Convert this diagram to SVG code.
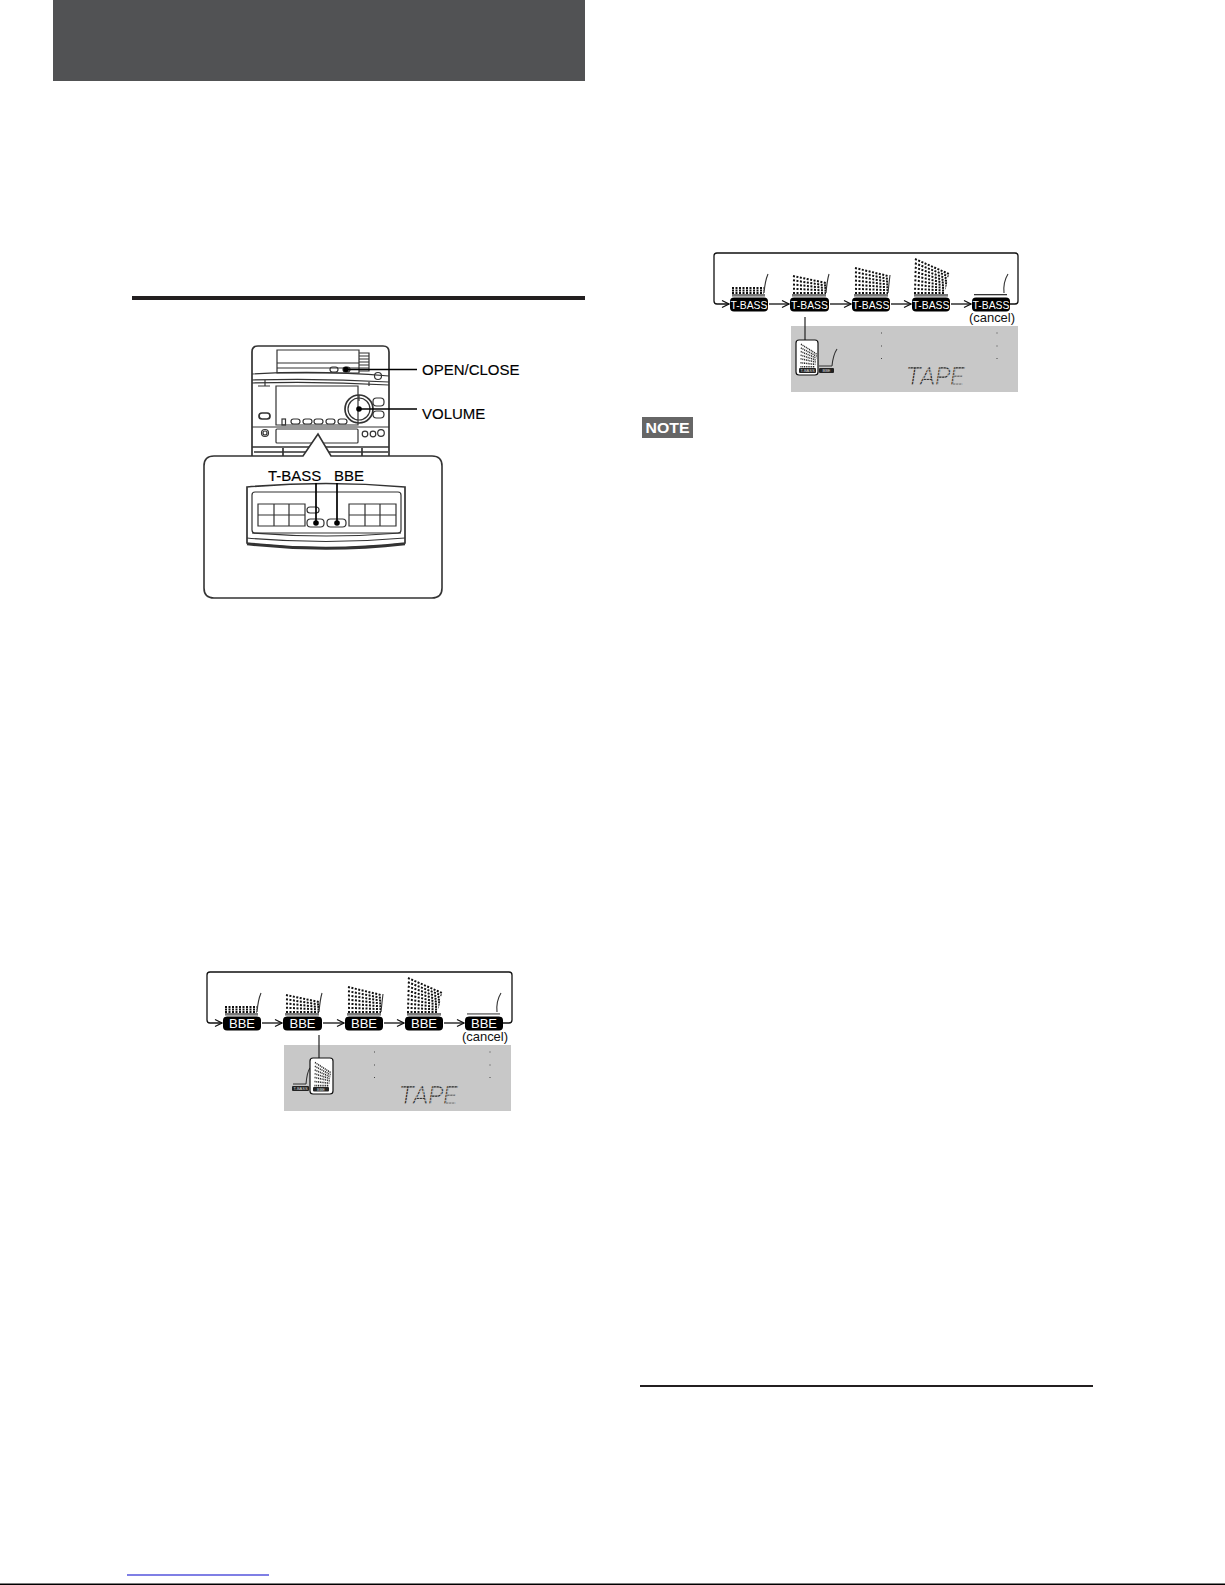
<svg xmlns="http://www.w3.org/2000/svg" width="1225" height="1585" viewBox="0 0 1225 1585">
<style>
text{font-family:"Liberation Sans",Arial,sans-serif}
.lb{font-size:15px;fill:#000;stroke:#000;stroke-width:.15}
.ln{fill:none;stroke:#333;stroke-width:1.2}
.lh{fill:none;stroke:#333;stroke-width:1.7}
.call{fill:none;stroke:#000;stroke-width:1.7}
.thin{fill:none;stroke:#222;stroke-width:1.2}
.btn{fill:#000}
.bt{fill:#fff;font-size:13px;text-anchor:middle}
.tb{fill:#fff;font-size:11px;text-anchor:middle}
.chip{fill:#222}
.ct{fill:#ddd;font-size:4px;text-anchor:middle}
.fan{fill:none;stroke:#111;stroke-width:2;stroke-dasharray:2 1.5}
.fs{fill:none;stroke:#222;stroke-width:2.4;stroke-dasharray:2.2 1.6}
.cur{fill:none;stroke:#333;stroke-width:1.1}
.arr{fill:none;stroke:#111;stroke-width:1.3}
.lcd{fill:#c8c8c8}
.tp{font-family:"Roboto","Liberation Sans",sans-serif;font-size:25px;font-weight:300;fill:url(#seg)}
</style>
<defs>
<pattern id="seg" width="3" height="3" patternUnits="userSpaceOnUse"><rect width="2.400" height="2.400" fill="#333"/></pattern>
<marker id="ah" markerUnits="userSpaceOnUse" markerWidth="10" markerHeight="10" refX="8" refY="5" orient="auto"><path d="M1 1.500 L8 5 L1 8.500" fill="none" stroke="#111" stroke-width="1.300"/></marker>
<path id="fan1" class="fan" d="M2 -10H34M2 -7.500H34M2 -5H34"/>
<path id="fan2" class="fan" d="M3 -22L36 -15M3 -17.750L36 -12.500M3 -13.500L36 -10M3 -9.250L36 -7.500M3 -5L36 -5"/>
<path id="fan3" class="fan" d="M3 -30L36 -22M3 -25.830L36 -19.170M3 -21.670L36 -16.330M3 -17.500L36 -13.500M3 -13.330L36 -10.670M3 -9.170L36 -7.830M3 -5L36 -5"/>
<path id="fan4" class="fan" d="M3 -39L37 -24M2.900 -34.750L36.500 -21.630M2.800 -30.500L36 -19.250M2.600 -26.250L35.500 -16.880M2.500 -22L35 -14.500M2.400 -17.750L34.500 -12.130M2.200 -13.500L34 -9.750M2.100 -9.250L33.500 -7.380M2 -5L33 -5"/>
<path id="fan4s" class="fs" d="M3 -39L37 -24M2.800 -33.500L36.400 -21M2.600 -28L35.800 -18M2.400 -22.500L35.200 -15M2.200 -17L34.600 -12M2.100 -11L33.800 -8.500M2 -5L33 -5"/>
<g id="levels">
  <rect x="2" y="-4" width="33" height="2.600" fill="#777" transform="translate(223,1017)"/>
  <use href="#fan1" transform="translate(223,1017)"/>
  <path class="cur" d="M257 1012Q258 1000 261 993"/>
  <rect x="2" y="-4" width="34" height="2.600" fill="#777" transform="translate(283,1017)"/>
  <use href="#fan2" transform="translate(283,1017)"/>
  <path class="cur" d="M319 1012Q320 1000 322 993"/>
  <rect x="2" y="-4" width="34" height="2.600" fill="#777" transform="translate(345,1017)"/>
  <use href="#fan3" transform="translate(345,1017)"/>
  <path class="cur" d="M381 1012Q382 1002 383 994"/>
  <rect x="2" y="-4" width="34" height="2.600" fill="#777" transform="translate(405,1017)"/>
  <use href="#fan4" transform="translate(405,1017)"/>
  <path class="cur" d="M497 1012Q496 1001 501 993"/>
</g>
<g id="buttons">
  <rect class="btn" x="223" y="1016.500" width="38" height="14" rx="4"/>
  <rect class="btn" x="283" y="1016.500" width="39" height="14" rx="4"/>
  <rect class="btn" x="345" y="1016.500" width="38" height="14" rx="4"/>
  <rect class="btn" x="405" y="1016.500" width="38" height="14" rx="4"/>
  <rect class="btn" x="465" y="1016.500" width="38" height="14" rx="4"/>
</g>
<g id="lcd">
  <rect class="lcd" x="284" y="1045" width="227" height="66"/>
  <g fill="#444"><rect x="374" y="1051.500" width="1" height="1"/><rect x="374" y="1064.500" width="1" height="1"/><rect x="374" y="1077" width="1" height="1"/><rect x="489.500" y="1051.500" width="1" height="1"/><rect x="489.500" y="1064.500" width="1" height="1"/><rect x="489.500" y="1077" width="1" height="1"/></g>
  <text class="tp" x="0" y="0" transform="translate(398,1104) skewX(-9)" textLength="58" lengthAdjust="spacingAndGlyphs">TAPE</text>
</g>
</defs>

<rect id="header-band" x="53" y="0" width="532" height="81" fill="#515254"/>
<rect id="section-rule" x="132" y="296" width="453" height="4" fill="#231f20"/>

<g id="unit">
  <path class="lh" d="M252 456V352Q252 346 258 346H383Q389 346 389 352V456"/>
  <path class="ln" d="M277 350H359V363H277ZM277 363V373H359V363M277 368H359"/>
  <path class="ln" d="M359 353H369V371H359M359 356H369M359 359H369M359 362H369M359 365H369M359 368H369"/>
  <rect class="ln" x="330" y="367" width="8" height="5" rx="2.500"/>
  <rect class="ln" x="343" y="367" width="7" height="5" rx="2.500"/>
  <path class="ln" d="M252 374Q320 370 389 376M252 380Q320 378 389 382M252 383Q320 381 389 385"/>
  <circle class="ln" cx="378" cy="376" r="3.500"/>
  <path class="ln" d="M265 380V386M369 382V386"/>
  <path class="ln" d="M258 386H270M276 386H358V425H276Z"/>
  <circle class="lh" cx="359" cy="409" r="14"/><circle class="ln" cx="359" cy="409" r="11"/>
  <path class="ln" d="M359 395V401"/>
  <rect class="ln" x="373" y="398" width="11" height="8" rx="3.500"/>
  <rect class="ln" x="373" y="411" width="11" height="7" rx="3.500"/>
  <rect class="lh" x="259" y="413" width="11" height="6" rx="3"/>
  <rect class="ln" x="282" y="419" width="3.500" height="6"/>
  <rect class="ln" x="291" y="419" width="9" height="5" rx="2.500"/>
  <rect class="ln" x="303" y="419" width="9" height="5" rx="2.500"/>
  <rect class="ln" x="314" y="419" width="9" height="5" rx="2.500"/>
  <rect class="ln" x="326" y="419" width="9" height="5" rx="2.500"/>
  <rect class="ln" x="338" y="419" width="9" height="5" rx="2.500"/>
  <path class="ln" d="M252 427H389"/>
  <rect class="ln" x="276" y="429" width="82" height="14" rx="1"/>
  <circle class="ln" cx="265" cy="433" r="3.500"/><circle class="ln" cx="265" cy="433" r="2"/>
  <circle class="ln" cx="365" cy="434" r="2.800"/><circle class="ln" cx="373" cy="434" r="2.800"/><circle class="ln" cx="381" cy="433" r="3.300"/>
  <path class="lh" d="M252 447H389M254 452H388M283 448V456M362 448V456"/>
</g>

<g id="callout-panel">
  <path d="M214 456H303L318 434L331 456H432Q442 456 442 466V588Q442 598 432 598H214Q204 598 204 588V466Q204 456 214 456Z" fill="#fff" stroke="#333" stroke-width="1.600"/>
</g>
<g id="panel-device">
  <path class="lh" d="M247 487Q326 480 405 487V543Q326 552 247 543Z"/>
  <path class="ln" d="M247 538Q326 545 405 538"/>
  <path fill="none" stroke="#333" stroke-width="2.400" d="M247 544Q326 553 405 544"/>
  <rect class="ln" x="252" y="492" width="149" height="41" rx="3"/>
  <path class="ln" d="M252 533Q326 539 401 533"/>
  <path class="ln" d="M258 504H305V526H258ZM258 515H305M274 504V526M289 504V526"/>
  <path class="ln" d="M349 504H396V526H349ZM349 515H396M365 504V526M380 504V526"/>
  <rect class="ln" x="307" y="507" width="12" height="6" rx="3"/>
  <rect class="ln" x="307" y="519" width="17" height="8" rx="3.500"/>
  <rect class="ln" x="327" y="519" width="19" height="8" rx="3.500"/>
</g>

<g id="labels">
  <text class="lb" x="422" y="375">OPEN/CLOSE</text>
  <text class="lb" x="422" y="419">VOLUME</text>
  <text class="lb" x="268" y="481">T-BASS</text>
  <text class="lb" x="334" y="481">BBE</text>
</g>

<g id="callouts">
  <path class="call" d="M346 369.500H417M359 409H417M316 483V523M337 483V523"/>
  <g fill="#000"><circle cx="346" cy="369.500" r="2.800"/><circle cx="359" cy="409" r="2.800"/><circle cx="316" cy="523" r="2.800"/><circle cx="337" cy="523" r="2.800"/></g>
</g>

<g id="bbe-levels">
  <use href="#levels"/>
  <rect x="467" y="1013" width="33" height="1.800" fill="#888"/>
</g>
<g id="bbe-buttons">
  <use href="#buttons"/>
  <text class="bt" x="242" y="1028">BBE</text>
  <text class="bt" x="302.500" y="1028">BBE</text>
  <text class="bt" x="364" y="1028">BBE</text>
  <text class="bt" x="424" y="1028">BBE</text>
  <text class="bt" x="484" y="1028">BBE</text>
  <text x="462" y="1041" font-size="13" textLength="46" fill="#111">(cancel)</text>
</g>
<g id="bbe-connectors">
  <path class="arr" marker-end="url(#ah)" d="M503 1023H509Q512 1023 512 1020V975Q512 972 509 972H210Q207 972 207 975V1020Q207 1023 210 1023H222"/>
  <path class="arr" marker-end="url(#ah)" d="M262 1023H282"/>
  <path class="arr" marker-end="url(#ah)" d="M323 1023H344"/>
  <path class="arr" marker-end="url(#ah)" d="M384 1023H404"/>
  <path class="arr" marker-end="url(#ah)" d="M444 1023H464"/>
</g>
<g id="bbe-display">
  <use href="#lcd"/>
  <path class="thin" d="M319 1035V1058"/>
  <rect x="293" y="1083.500" width="13" height="1" fill="#333"/>
  <path class="cur" d="M306 1084Q307 1072 310 1068"/>
  <rect class="chip" x="292" y="1086" width="17" height="5" rx="1"/>
  <text class="ct" x="300.500" y="1090">T-BASS</text>
  <rect x="310" y="1058" width="23" height="36" rx="3" fill="#fff" stroke="#111" stroke-width="1.200"/>
  <use href="#fan4s" transform="translate(313.500,1089) scale(.47,.68)"/>
  <rect class="chip" x="313" y="1087" width="16" height="4.500" rx="1"/>
  <text class="ct" x="321" y="1090.700">BBE</text>
</g>

<g id="tbass-levels">
  <use href="#levels" transform="translate(507,-719)"/>
  <rect x="974" y="294" width="33" height="1.300" fill="#333"/>
</g>
<g id="tbass-buttons">
  <use href="#buttons" transform="translate(507,-719)"/>
  <text class="tb" x="749" y="309" textLength="37" lengthAdjust="spacingAndGlyphs">T-BASS</text>
  <text class="tb" x="809.500" y="309" textLength="37" lengthAdjust="spacingAndGlyphs">T-BASS</text>
  <text class="tb" x="871" y="309" textLength="37" lengthAdjust="spacingAndGlyphs">T-BASS</text>
  <text class="tb" x="931" y="309" textLength="37" lengthAdjust="spacingAndGlyphs">T-BASS</text>
  <text class="tb" x="991" y="309" textLength="37" lengthAdjust="spacingAndGlyphs">T-BASS</text>
  <text x="969" y="322" font-size="13" textLength="46" fill="#111">(cancel)</text>
</g>
<g id="tbass-connectors">
  <path class="arr" marker-end="url(#ah)" d="M1010 304H1015Q1018 304 1018 301V256Q1018 253 1015 253H717Q714 253 714 256V301Q714 304 717 304H729"/>
  <path class="arr" marker-end="url(#ah)" d="M769 304H789"/>
  <path class="arr" marker-end="url(#ah)" d="M830 304H851"/>
  <path class="arr" marker-end="url(#ah)" d="M891 304H911"/>
  <path class="arr" marker-end="url(#ah)" d="M951 304H971"/>
</g>
<g id="tbass-display">
  <use href="#lcd" transform="translate(507,-719)"/>
  <path class="thin" d="M805 317V340"/>
  <rect x="796" y="340" width="22" height="35" rx="3" fill="#fff" stroke="#111" stroke-width="1.200"/>
  <use href="#fan4s" transform="translate(799.500,370) scale(.47,.66)"/>
  <rect class="chip" x="799" y="368" width="17" height="5" rx="1"/>
  <text class="ct" x="807.500" y="372">T-BASS</text>
  <rect x="819" y="365.500" width="13" height="1" fill="#333"/>
  <path class="cur" d="M832 366Q833 355 837 349"/>
  <rect class="chip" x="819" y="368" width="15" height="5" rx="1"/>
  <text class="ct" x="826.500" y="372">BBE</text>
</g>

<g id="note-badge">
  <rect x="642" y="417" width="51" height="21" fill="#666"/>
  <text x="667.500" y="432.500" font-size="15" font-weight="700" fill="#fff" text-anchor="middle" textLength="44" lengthAdjust="spacingAndGlyphs">NOTE</text>
</g>

<rect id="column-rule" x="640" y="1385" width="453" height="2" fill="#231f20"/>
<rect id="link-underline" x="127" y="1574.500" width="142" height="1" fill="#0000cc"/>
<rect id="page-edge" x="0" y="1583.500" width="1225" height="1.500" fill="#000"/>
</svg>
